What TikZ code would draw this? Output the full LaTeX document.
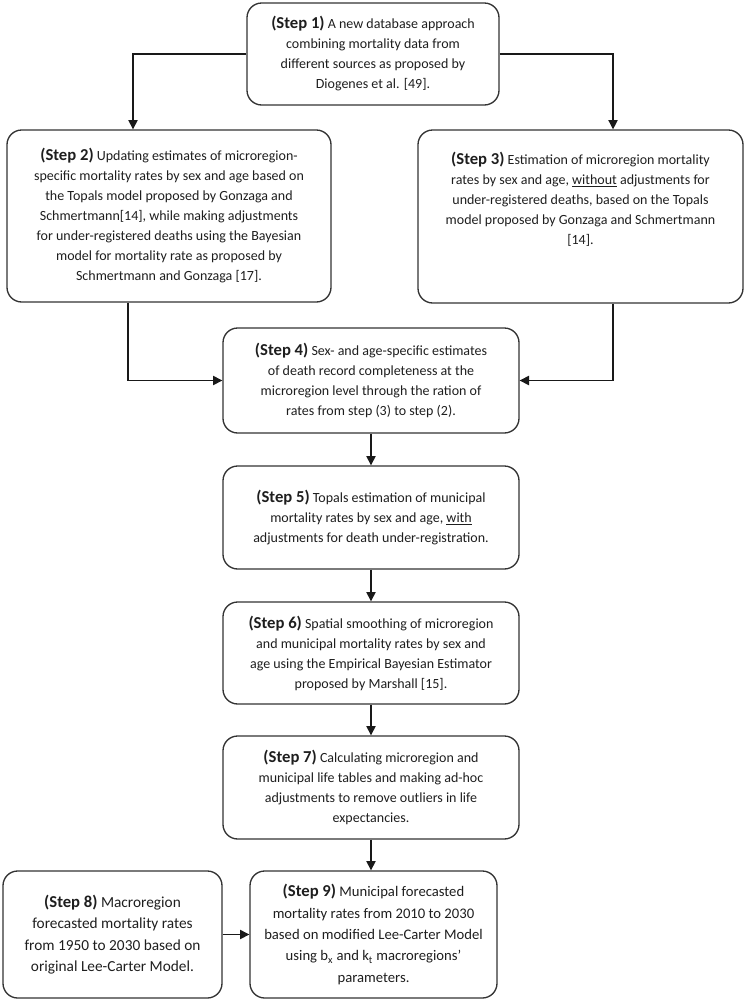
\documentclass[tikz,border=0pt]{standalone}
\usepackage{fontspec}
\setmainfont{Carlito}
\usetikzlibrary{positioning, arrows.meta}
\definecolor{boxline}{HTML}{333333}
\definecolor{inktext}{HTML}{1E1E1E}
\newcommand{\stepno}[1]{{\fontsize{12.5}{15}\selectfont\bfseries (Step #1)}}

\begin{document}
\begin{tikzpicture}[x=0.75pt, y=-0.75pt, >={Triangle[length=7pt,width=7pt]},
    stepbox/.style={draw=boxline, line width=1pt, rounded corners=11pt, align=center,
      text=inktext, font=\fontsize{10.5}{15}\selectfont, inner sep=2pt},
    link/.style={->, draw=black!90, line width=0.9pt}]
  \useasboundingbox (0,0) rectangle (745,1000);
  % steps
  \node[stepbox, minimum width=189pt, minimum height=76.5pt] (s1) at (373,54)
    {\stepno{1} A new database approach\\ combining mortality data from\\ different sources as proposed by\\ Diogenes et al. [49].};
  \node[stepbox, minimum width=243pt, minimum height=129pt] (s2) at (169,216)
    {\stepno{2} Updating estimates of microregion-\\ specific mortality rates by sex and age based on\\ the Topals model proposed by Gonzaga and\\ Schmertmann[14], while making adjustments\\ for under-registered deaths using the Bayesian\\ model for mortality rate as proposed by\\ Schmertmann and Gonzaga [17].};
  \node[stepbox, minimum width=243.75pt, minimum height=129.75pt] (s3) at (580.5,216.5)
    {\stepno{3} Estimation of microregion mortality\\ rates by sex and age, \underline{without} adjustments for\\ under-registered deaths, based on the Topals\\ model proposed by Gonzaga and Schmertmann\\ {[14]}.\\[12pt]};
  \node[stepbox, minimum width=222pt, minimum height=78.75pt] (s4) at (371,380.5)
    {\stepno{4} Sex- and age-specific estimates\\ of death record completeness at the\\ microregion level through the ration of\\ rates from step (3) to step (2).};
  \node[stepbox, minimum width=222pt, minimum height=77.25pt] (s5) at (371,517.5)
    {\stepno{5} Topals estimation of municipal\\ mortality rates by sex and age, \underline{with}\\ adjustments for death under-registration.};
  \node[stepbox, minimum width=222pt, minimum height=76.5pt] (s6) at (371,653)
    {\stepno{6} Spatial smoothing of microregion\\ and municipal mortality rates by sex and\\ age using the Empirical Bayesian Estimator\\ proposed by Marshall [15].};
  \node[stepbox, minimum width=222pt, minimum height=77.25pt] (s7) at (371,787.5)
    {\stepno{7} Calculating microregion and\\ municipal life tables and making ad-hoc\\ adjustments to remove outliers in life\\ expectancies.};
  \node[stepbox, minimum width=164.25pt, minimum height=95.25pt, font=\fontsize{11.5}{16}\selectfont] (s8) at (112.5,934.5)
    {\stepno{8} Macroregion\\ forecasted mortality rates\\ from 1950 to 2030 based on\\ original Lee-Carter Model.};
  \node[stepbox, minimum width=185.25pt, minimum height=95.25pt, font=\fontsize{11}{16}\selectfont] (s9) at (373.5,934.5)
    {\stepno{9} Municipal forecasted\\ mortality rates from 2010 to 2030\\ based on modified Lee-Carter Model\\ using b\textsubscript{x} and k\textsubscript{t} macroregions’\\ parameters.};
  % connectors
  \draw[link] (s1.west) -| ([xshift=-27pt]s2.north);
  \draw[link] (s1.east) -| ([xshift=24.4pt]s3.north);
  \draw[link] ([xshift=-30.75pt]s2.south) |- (s4.west);
  \draw[link] ([xshift=24.4pt]s3.south) |- (s4.east);
  \draw[link] (s4) -- (s5);
  \draw[link] (s5) -- (s6);
  \draw[link] (s6) -- (s7);
  \draw[link] (s7.south) -- (s7.south |- s9.north);
  \draw[link] (s8) -- (s9);
\end{tikzpicture}
\end{document}
